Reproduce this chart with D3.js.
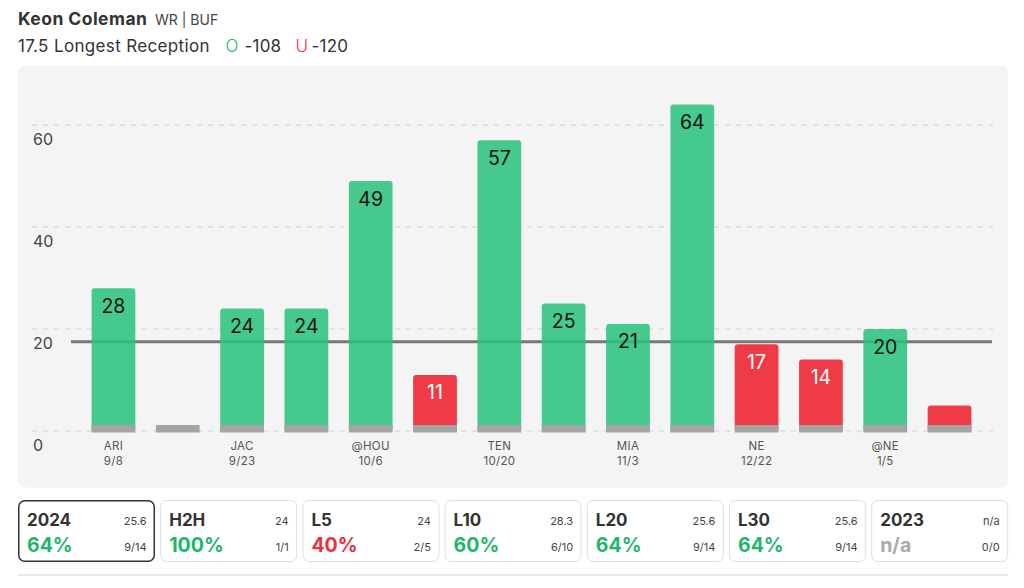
<!DOCTYPE html>
<html>
<head>
<meta charset="utf-8">
<script src="https://cdn.jsdelivr.net/npm/d3@7"></script>
<style>
  html, body { margin: 0; padding: 0; background: #ffffff; }
  svg { display: block; font-family: Inter, "Noto Sans", sans-serif; }
</style>
</head>
<body>
<svg id="chart" width="1024" height="588"></svg>
<script>
// ---- data ----
const games = ["g1","g2","g3","g4","g5","g6","g7","g8","g9","g10","g11","g12","g13","g14"];
const opponents = ["ARI","","JAC","","@HOU","","TEN","","MIA","","NE","","@NE",""];
const dates = ["9/8","","9/23","","10/6","","10/20","","11/3","","12/22","","1/5",""];
const values = [28, null, 24, 24, 49, 11, 57, 25, 21, 64, 17, 14, 20, 5];
const line = 17.5;
const yTicks = [0, 20, 40, 60];

const cardLabels = ["2024","H2H","L5","L10","L20","L30","2023"];
const cardAvg = ["25.6","24","24","28.3","25.6","25.6","n/a"];
const cardPct = ["64%","100%","40%","60%","64%","64%","n/a"];
const cardRecord = ["9/14","1/1","2/5","6/10","9/14","9/14","0/0"];
const cardTone = ["over","over","under","over","over","over","none"];

// ---- styles ----
const GREEN_FILL = "rgb(45,195,126)";
const RED_FILL = "rgb(237,33,47)";
const TEXT_GREEN = "#1fb56e";
const TEXT_RED = "#e9313f";

const svg = d3.select("#chart");

// header
const h1 = svg.append("text").attr("x", 18).attr("y", 25);
h1.append("tspan").text("Keon Coleman").attr("font-size", 17.5).attr("font-weight", 700)
  .attr("letter-spacing", 0.45).attr("fill", "#333");
h1.append("tspan").text("WR | BUF").attr("x", 155).attr("font-size", 14).attr("fill", "#444");

const h2 = svg.append("text").attr("y", 51.5).attr("font-size", 17).attr("fill", "#333");
h2.append("tspan").attr("x", 18).attr("letter-spacing", 0.35).text(line + " Longest Reception");
h2.append("tspan").attr("x", 225.5).attr("fill", TEXT_GREEN).attr("font-weight", 300).text("O");
h2.append("tspan").attr("x", 244.5).attr("letter-spacing", 0.2).text("-108");
h2.append("tspan").attr("x", 295.5).attr("fill", TEXT_RED).attr("font-weight", 300).text("U");
h2.append("tspan").attr("x", 311.5).attr("letter-spacing", 0.2).text("-120");

// panel
svg.append("rect").attr("x", 18).attr("y", 65.5).attr("width", 990).attr("height", 422)
  .attr("rx", 7).attr("fill", "#f4f4f4");

const x = d3.scaleBand().domain(games).range([71, 992]).paddingInner(0.32).paddingOuter(0.32);
const y = d3.scaleLinear().domain([0, 60]).range([431, 125]);

// gridlines
svg.append("g").selectAll("line").data(yTicks).join("line")
  .attr("x1", 32).attr("x2", 993)
  .attr("y1", d => y(d)).attr("y2", d => y(d))
  .attr("stroke", "#dcdcdc").attr("stroke-width", 1.5).attr("stroke-dasharray", "5,6");

// y axis labels
svg.append("g").selectAll("text").data(yTicks).join("text")
  .attr("x", 33).attr("y", d => y(d) + 19.5)
  .attr("font-size", 16).attr("fill", "#444").text(d => d);

// threshold line (under bars)
svg.append("line").attr("x1", 71).attr("x2", 992)
  .attr("y1", y(line)).attr("y2", y(line))
  .attr("stroke", "#777").attr("stroke-width", 3);

// bars
const barData = games.map((g, i) => ({ g, v: values[i], op: opponents[i], dt: dates[i] }));
const bw = x.bandwidth();

svg.append("g").selectAll("rect").data(barData.filter(d => d.v !== null)).join("rect")
  .attr("x", d => x(d.g)).attr("width", bw)
  .attr("y", d => y(d.v)).attr("height", d => 432 - y(d.v))
  .attr("rx", 3)
  .attr("fill", d => d.v > line ? GREEN_FILL : RED_FILL)
  .attr("fill-opacity", 0.88);

// gray base stubs
svg.append("g").selectAll("rect").data(barData).join("rect")
  .attr("x", d => x(d.g)).attr("width", bw)
  .attr("y", 425).attr("height", 7.5)
  .attr("fill", "#a4a4a4");

// value labels
svg.append("g").selectAll("text").data(barData.filter(d => d.v !== null && (432 - y(d.v)) > 35)).join("text")
  .attr("x", d => x(d.g) + bw / 2).attr("y", d => y(d.v) + 24.5)
  .attr("text-anchor", "middle").attr("font-size", 19.5)
  .attr("fill", d => d.v > line ? "#111" : "#fff")
  .text(d => d.v);

// x labels
const xl = svg.append("g").selectAll("text").data(barData.filter(d => d.op)).join("text")
  .attr("text-anchor", "middle").attr("font-size", 11.5).attr("letter-spacing", 0.3).attr("fill", "#555");
xl.append("tspan").attr("x", d => x(d.g) + bw / 2).attr("y", 450).text(d => d.op);
xl.append("tspan").attr("x", d => x(d.g) + bw / 2).attr("y", 465).text(d => d.dt);

// cards
const cardW = 137, cardGap = 5.2, cardY = 500, cardH = 62;
const cards = svg.append("g").selectAll("g").data(cardLabels.map((l, i) => ({
  l, avg: cardAvg[i], pct: cardPct[i], rec: cardRecord[i], tone: cardTone[i], i
}))).join("g")
  .attr("transform", d => `translate(${18 + d.i * (cardW + cardGap)},${cardY})`);

cards.append("rect")
  .attr("x", d => d.i === 0 ? 0.75 : 0.5).attr("y", d => d.i === 0 ? 0.75 : 0.5)
  .attr("width", d => d.i === 0 ? cardW - 1.5 : cardW - 1)
  .attr("height", d => d.i === 0 ? cardH - 1.5 : cardH - 1)
  .attr("rx", 6).attr("fill", "#fff")
  .attr("stroke", d => d.i === 0 ? "#333" : "#dedede")
  .attr("stroke-width", d => d.i === 0 ? 1.5 : 1);

cards.append("text").attr("x", 9).attr("y", 25.5)
  .attr("font-size", 17).attr("font-weight", 700).attr("fill", "#333").text(d => d.l);
cards.append("text").attr("x", cardW - 8.5).attr("y", 24.5).attr("text-anchor", "end")
  .attr("font-size", 11).attr("fill", "#444").text(d => d.avg);
cards.append("text").attr("x", 9).attr("y", 52)
  .attr("font-size", 19.5).attr("font-weight", 700)
  .attr("fill", d => d.tone === "over" ? TEXT_GREEN : d.tone === "under" ? TEXT_RED : "#aaa")
  .text(d => d.pct);
cards.append("text").attr("x", cardW - 8.5).attr("y", 50.5).attr("text-anchor", "end")
  .attr("font-size", 11).attr("fill", "#444").text(d => d.rec);

// bottom divider
svg.append("line").attr("x1", 18).attr("x2", 1008).attr("y1", 575).attr("y2", 575)
  .attr("stroke", "#e8e8e8").attr("stroke-width", 2);
</script>
</body>
</html>
